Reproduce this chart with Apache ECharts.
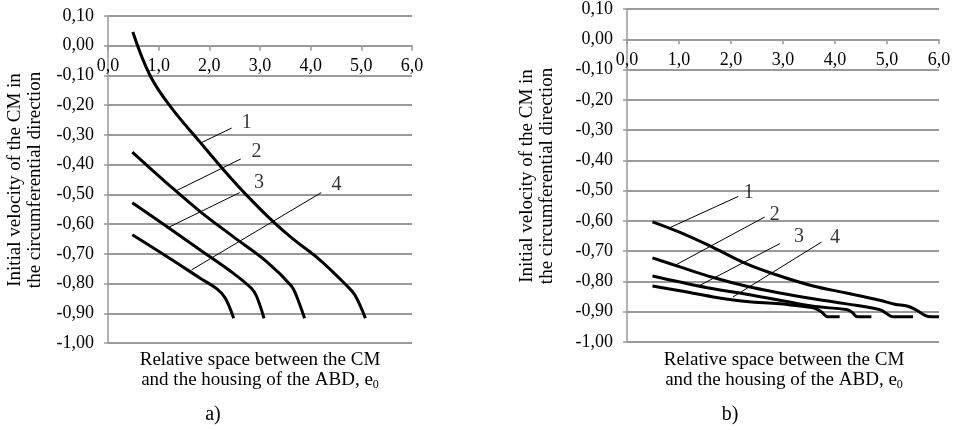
<!DOCTYPE html>
<html>
<head>
<meta charset="utf-8">
<script src="https://cdn.jsdelivr.net/npm/echarts@6/dist/echarts.min.js"></script>
<style>html,body{margin:0;padding:0;background:#fff}#c{width:957px;height:430px}</style>
</head>
<body>
<div id="c"></div>
<script>
// ---- data ----
const seriesNames = ['1', '2', '3', '4'];
const leftCurve1 = [[0.49,0.046],[0.83,-0.100],[1.23,-0.204],[1.82,-0.325],[2.34,-0.429],[2.72,-0.50],[3.26,-0.592],[3.65,-0.650],[4.18,-0.72],[4.70,-0.805],[4.87,-0.838],[5.08,-0.917]];
const leftCurve2 = [[0.48,-0.358],[1.16,-0.462],[1.82,-0.558],[2.47,-0.642],[3.13,-0.726],[3.62,-0.808],[3.72,-0.842],[3.88,-0.917]];
const leftCurve3 = [[0.48,-0.528],[1.16,-0.608],[1.82,-0.687],[2.47,-0.765],[2.83,-0.816],[2.93,-0.842],[3.08,-0.917]];
const leftCurve4 = [[0.48,-0.636],[1.16,-0.709],[1.82,-0.782],[2.15,-0.818],[2.31,-0.848],[2.48,-0.917]];
const rightCurve1 = [[0.49,-0.603],[1.02,-0.638],[1.66,-0.688],[2.30,-0.742],[2.94,-0.782],[3.58,-0.815],[4.22,-0.838],[4.86,-0.862],[5.15,-0.875],[5.40,-0.882],[5.57,-0.895],[5.73,-0.912],[5.85,-0.917],[6.0,-0.917]];
const rightCurve2 = [[0.49,-0.722],[1.02,-0.752],[1.66,-0.787],[2.30,-0.816],[2.94,-0.838],[3.58,-0.857],[4.22,-0.874],[4.86,-0.893],[4.99,-0.906],[5.12,-0.917],[5.50,-0.917]];
const rightCurve3 = [[0.49,-0.782],[1.02,-0.802],[1.66,-0.824],[2.30,-0.842],[2.94,-0.862],[3.58,-0.882],[4.22,-0.893],[4.32,-0.901],[4.44,-0.917],[4.70,-0.917]];
const rightCurve4 = [[0.49,-0.815],[1.02,-0.831],[1.66,-0.851],[2.30,-0.866],[2.94,-0.874],[3.58,-0.887],[3.74,-0.901],[3.87,-0.917],[4.09,-0.917]];
const leftLeaders = [[[1.82,-0.328],[2.44,-0.277]],[[1.32,-0.49],[2.62,-0.381]],[[1.16,-0.614],[2.60,-0.494]],[[1.65,-0.754],[4.21,-0.494]]];
const rightLeaders = [[[0.79,-0.625],[2.14,-0.519]],[[0.92,-0.747],[2.65,-0.587]],[[1.40,-0.813],[2.94,-0.675]],[[2.04,-0.851],[3.74,-0.67]]];
const leftLabelPos = [[2.74,-0.258],[2.93,-0.356],[2.98,-0.462],[4.51,-0.468]];
const rightLabelPos = [[2.34,-0.508],[2.84,-0.581],[3.31,-0.651],[4.0,-0.655]];
const xMin = 0, xMax = 6, xStep = 1;
const yMin = -1.0, yMax = 0.1, yStep = 0.1;
const yTitle = 'Initial velocity of the CM in\nthe circumferential direction';
const xTitle1 = 'Relative space between the CM';
const xTitle2 = 'and the housing of the ABD, e';
const xTitleSub = '0';
const panelLabels = ['a)', 'b)'];

// ---- chart ----
const FONT = "'Liberation Serif', 'DejaVu Serif', serif";
const GRAY = '#9a9a9a';
const grids = [
  {left: 108, top: 16, width: 304, height: 327},
  {left: 627, top: 9, width: 312, height: 333}
];
const chart = echarts.init(document.getElementById('c'), null, {renderer: 'canvas'});
const fmtY = v => (Math.abs(v) < 1e-9 ? 0 : v).toFixed(2).replace('.', ',');
const fmtX = v => v.toFixed(1).replace('.', ',');

function xAxis(gi) {
  // x axis drawn along the zero line of the value axis
  const zeroOffset = grids[gi].height * (yMax - 0) / (yMax - yMin);
  return {
    gridIndex: gi, type: 'value', min: xMin, max: xMax, interval: xStep,
    position: 'top', offset: -zeroOffset,
    axisLine: {show: true, onZero: false, lineStyle: {color: GRAY, width: 1.5}},
    axisTick: {show: true, inside: true, length: 5, lineStyle: {color: GRAY, width: 1.5}},
    axisLabel: {inside: true, formatter: fmtX, color: '#000', fontFamily: FONT, fontSize: 18, margin: 12},
    splitLine: {show: false}
  };
}
function yAxis(gi) {
  return {
    gridIndex: gi, type: 'value', min: yMin, max: yMax, interval: yStep,
    axisLine: {show: true, onZero: false, lineStyle: {color: GRAY, width: 1.5}},
    axisTick: {show: true, length: 4, lineStyle: {color: GRAY, width: 1.5}},
    axisLabel: {formatter: fmtY, color: '#000', fontFamily: FONT, fontSize: 18, margin: 14},
    splitLine: {show: true, lineStyle: {color: GRAY, width: 2}}
  };
}
const series = [];
function addPanel(gi, curves, leaders, labelPos) {
  curves.forEach(d => series.push({
    type: 'line', xAxisIndex: gi, yAxisIndex: gi, data: d, smooth: 0.4,
    showSymbol: false, lineStyle: {color: '#000', width: 3}, silent: true, z: 3
  }));
  leaders.forEach(d => series.push({
    type: 'line', xAxisIndex: gi, yAxisIndex: gi, data: d, showSymbol: false,
    lineStyle: {color: '#000', width: 1}, silent: true, z: 2
  }));
  series.push({
    type: 'scatter', xAxisIndex: gi, yAxisIndex: gi, symbolSize: 0,
    data: labelPos.map((p, i) => ({name: seriesNames[i], value: p})),
    label: {show: true, position: 'inside', formatter: '{b}', color: '#000', fontFamily: FONT, fontSize: 20},
    silent: true, z: 4
  });
}
addPanel(0, [leftCurve1, leftCurve2, leftCurve3, leftCurve4], leftLeaders, leftLabelPos);
addPanel(1, [rightCurve1, rightCurve2, rightCurve3, rightCurve4], rightLeaders, rightLabelPos);

function txt(x, y, s, extra) {
  return Object.assign({type: 'text', x: x, y: y,
    style: Object.assign({text: s, fontFamily: FONT, fontSize: 19, fill: '#000', align: 'center', verticalAlign: 'middle'}, extra || {})});
}
function titles(pi, yx, yy, xx, px, py) {
  const rot = txt(yx, yy, yTitle, {lineHeight: 20});
  rot.rotation = Math.PI / 2;
  return [
    rot,
    txt(xx, 360, xTitle1),
    txt(xx, 380, '{m|' + xTitle2 + '}{s|' + xTitleSub + '}', {
      rich: {m: {fontFamily: FONT, fontSize: 19, fill: '#000'},
             s: {fontFamily: FONT, fontSize: 12, fill: '#000', padding: [9, 0, 0, 0]}}}),
    txt(px, py, panelLabels[pi], {fontSize: 20})
  ];
}

chart.setOption({
  animation: false,
  backgroundColor: '#fff',
  grid: grids,
  xAxis: [xAxis(0), xAxis(1)],
  yAxis: [yAxis(0), yAxis(1)],
  series: series,
  graphic: [].concat(titles(0, 25, 180, 260, 213, 415), titles(1, 537, 176, 784, 730, 415))
});
</script>
</body>
</html>
